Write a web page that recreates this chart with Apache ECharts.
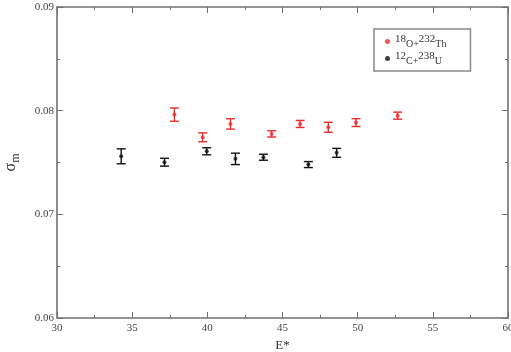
<!DOCTYPE html>
<html>
<head>
<meta charset="utf-8">
<script src="https://cdn.jsdelivr.net/npm/echarts@6/dist/echarts.min.js"></script>
<style>html,body{margin:0;padding:0;background:#fff}#c{width:511px;height:352px}</style>
</head>
<body>
<div id="c"></div>
<script>
// 18O + 232Th
var thE     = [37.81, 39.69, 41.54, 44.28, 46.17, 48.05, 49.89, 52.66];
var thSigma = [0.07962, 0.07743, 0.07872, 0.07776, 0.07872, 0.07840, 0.07885, 0.07952];
var thErr   = [0.00064, 0.00043, 0.00050, 0.00030, 0.00034, 0.00048, 0.00038, 0.00034];
// 12C + 238U
var uE      = [34.27, 37.15, 39.96, 41.87, 43.73, 46.72, 48.60];
var uSigma  = [0.07560, 0.07503, 0.07608, 0.07535, 0.07551, 0.07480, 0.07593];
var uErr    = [0.00072, 0.00038, 0.00034, 0.00055, 0.00029, 0.00029, 0.00043];

var xTicks = [30, 35, 40, 45, 50, 55, 60];
var yTicks = [0.06, 0.07, 0.08, 0.09];

var RED = '#ee2a2a', BLACK = '#111111', FRAME = '#707070';
var serif = 'Liberation Serif';

function pts(xs, ys) { return xs.map(function (x, i) { return [x, ys[i]]; }); }
function bars(xs, ys, es) { return xs.map(function (x, i) { return [x, ys[i] - es[i], ys[i] + es[i]]; }); }

function errorBar(color) {
  return function (params, api) {
    var lo = api.coord([api.value(0), api.value(1)]);
    var hi = api.coord([api.value(0), api.value(2)]);
    var w = 4.5;
    var st = { stroke: color, lineWidth: 1.4 };
    return {
      type: 'group',
      children: [
        { type: 'line', shape: { x1: lo[0], y1: lo[1], x2: hi[0], y2: hi[1] }, style: st },
        { type: 'line', shape: { x1: lo[0] - w, y1: lo[1], x2: lo[0] + w, y2: lo[1] }, style: st },
        { type: 'line', shape: { x1: hi[0] - w, y1: hi[1], x2: hi[0] + w, y2: hi[1] }, style: st }
      ]
    };
  };
}

var axisCommon = {
  axisLine: { show: true, onZero: false, lineStyle: { color: FRAME, width: 1.6 } },
  axisTick: { show: true, inside: true, length: 6, lineStyle: { color: FRAME, width: 1 } },
  minorTick: { show: true, splitNumber: 2, length: 3, lineStyle: { color: FRAME, width: 1 } },
  splitLine: { show: false }
};

var chart = echarts.init(document.getElementById('c'), null, { renderer: 'canvas' });
chart.setOption({
  animation: false,
  backgroundColor: '#fff',
  grid: { left: 57, right: 3, top: 7, bottom: 34, outerBoundsMode: 'none', containLabel: false },
  legend: {
    orient: 'vertical',
    left: 374, top: 29,
    padding: [5, 24, 5, 11],
    itemGap: 2,
    itemWidth: 5, itemHeight: 5,
    borderColor: '#8a8a8a', borderWidth: 1.5,
    data: [
      { name: 'th', icon: 'circle', itemStyle: { color: RED } },
      { name: 'u', icon: 'circle', itemStyle: { color: BLACK } }
    ],
    formatter: function (n) {
      return n === 'th' ? '{sup|18}{b|O+}{sup|232}{b|Th}' : '{sup|12}{b|C+}{sup|238}{b|U}';
    },
    textStyle: {
      fontFamily: serif, color: '#333',
      rich: {
        sup: { fontFamily: serif, fontSize: 11, color: '#333', verticalAlign: 'top', lineHeight: 11 },
        b: { fontFamily: serif, fontSize: 10, color: '#333', verticalAlign: 'bottom', lineHeight: 15 }
      }
    }
  },
  xAxis: [
    Object.assign({
      type: 'value', min: 30, max: 60, interval: 5, position: 'bottom',
      name: 'E*', nameLocation: 'middle', nameGap: 21,
      nameTextStyle: { fontFamily: serif, fontSize: 13, color: '#333' },
      axisLabel: { fontFamily: serif, fontSize: 11, color: '#444', margin: 5,
        formatter: function (v) { return xTicks.indexOf(v) >= 0 ? String(v) : ''; } }
    }, axisCommon),
    Object.assign({
      type: 'value', min: 30, max: 60, interval: 5, position: 'top',
      axisLabel: { show: false }
    }, axisCommon)
  ],
  yAxis: [
    Object.assign({
      type: 'value', min: 0.06, max: 0.09, interval: 0.01, position: 'left',
      name: '{s|σ}{m|m}', nameLocation: 'middle', nameGap: 35, nameRotate: 90,
      nameTextStyle: { rich: {
        s: { fontFamily: serif, fontSize: 16, color: '#333', verticalAlign: 'top', lineHeight: 14 },
        m: { fontFamily: serif, fontSize: 12, color: '#333', verticalAlign: 'bottom', lineHeight: 19 }
      } },
      axisLabel: { fontFamily: serif, fontSize: 11, color: '#444', margin: 3,
        formatter: function (v) { return v.toFixed(2); } }
    }, axisCommon),
    Object.assign({
      type: 'value', min: 0.06, max: 0.09, interval: 0.01, position: 'right',
      axisLabel: { show: false }
    }, axisCommon)
  ],
  series: [
    { type: 'custom', name: 'thErr', renderItem: errorBar(RED), data: bars(thE, thSigma, thErr), z: 2, silent: true },
    { type: 'custom', name: 'uErr', renderItem: errorBar(BLACK), data: bars(uE, uSigma, uErr), z: 2, silent: true },
    { type: 'scatter', name: 'th', data: pts(thE, thSigma), symbol: 'circle', symbolSize: 4, itemStyle: { color: RED }, z: 3 },
    { type: 'scatter', name: 'u', data: pts(uE, uSigma), symbol: 'circle', symbolSize: 4, itemStyle: { color: BLACK }, z: 3 }
  ]
});
</script>
</body>
</html>
